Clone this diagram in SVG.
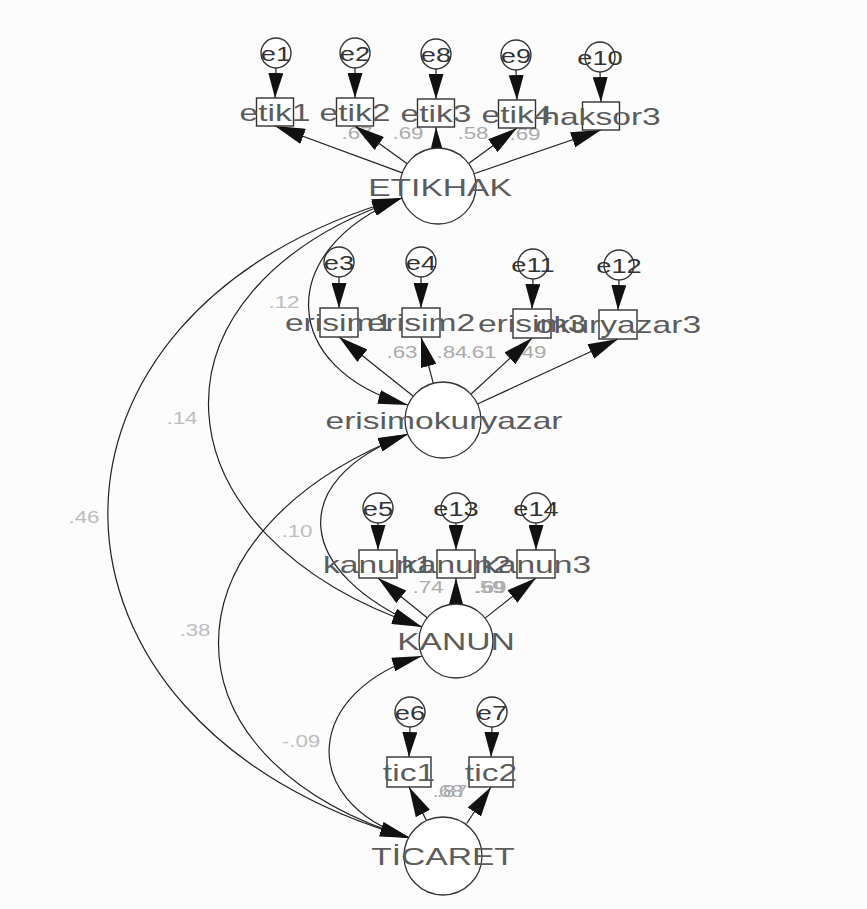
<svg xmlns="http://www.w3.org/2000/svg" width="867" height="909" viewBox="0 0 867 909">
  <defs>
    <!-- filled arrowheads: error paths, factor loadings, covariance ends -->
    <marker id="ahe" viewBox="0 0 25 15" refX="25" refY="7.5" markerWidth="25" markerHeight="15" markerUnits="userSpaceOnUse" orient="auto">
      <path d="M0,0 L25,7.5 L0,15 z" fill="#111"/>
    </marker>
    <marker id="ahl" viewBox="0 0 30 16" refX="30" refY="8" markerWidth="30" markerHeight="16" markerUnits="userSpaceOnUse" orient="auto">
      <path d="M0,0 L30,8 L0,16 z" fill="#111"/>
    </marker>
    <marker id="ahc" viewBox="0 0 30 14" refX="30" refY="7" markerWidth="30" markerHeight="14" markerUnits="userSpaceOnUse" orient="auto-start-reverse">
      <path d="M0,0 L30,7 L0,14 z" fill="#111"/>
    </marker>
  </defs>
  <style>
    .err circle { fill: #fff; stroke: #333; stroke-width: 1.4; }
    .obs rect { fill: #fff; stroke: #333; stroke-width: 1.4; }
    .lat circle { fill: #fff; stroke: #333; stroke-width: 1.3; }
    text { font-family: "Liberation Sans", Arial, sans-serif; text-anchor: middle; }
    .nm { font-size: 24px; fill: #5c5c5c; }
    .en { font-size: 21px; fill: #333; }
    .est { font-size: 16px; fill: #ababab; }
    .cov { font-size: 16px; fill: #bdbdbd; }
    .reg line { stroke: #222; stroke-width: 1.2; }
    .reg .ev { marker-end: url(#ahe); }
    .reg .ld { marker-end: url(#ahl); }
    .arc path { fill: none; stroke: #222; stroke-width: 1.2; marker-start: url(#ahc); marker-end: url(#ahc); }
  </style>

  <rect width="867" height="909" fill="#fcfcfc"/>

  <!-- estimates printed under the paths -->
  <g id="estimates">
    <text class="est" transform="translate(357,139) scale(1.4,1)">.67</text>
    <text class="est" transform="translate(408,139) scale(1.4,1)">.69</text>
    <text class="est" transform="translate(473,139) scale(1.4,1)">.58</text>
    <text class="est" transform="translate(525,140) scale(1.4,1)">.69</text>
    <text class="est" transform="translate(402,358) scale(1.4,1)">.63</text>
    <text class="est" transform="translate(452,358) scale(1.4,1)">.84</text>
    <text class="est" transform="translate(481,358) scale(1.4,1)">.61</text>
    <text class="est" transform="translate(531,358) scale(1.4,1)">.49</text>
    <text class="est" transform="translate(428,593) scale(1.4,1)">.74</text>
    <text class="est" transform="translate(489,593) scale(1.4,1)">.59</text>
    <text class="est" transform="translate(491,593) scale(1.4,1)">.69</text>
    <text class="est" transform="translate(448,797) scale(1.4,1)">.68</text>
    <text class="est" transform="translate(452,797) scale(1.4,1)">.87</text>
    <text class="cov" transform="translate(284,308) scale(1.4,1)">.12</text>
    <text class="cov" transform="translate(182,424) scale(1.4,1)">.14</text>
    <text class="cov" transform="translate(84,523) scale(1.4,1)">.46</text>
    <text class="cov" transform="translate(297,537) scale(1.4,1)">.10</text>
    <text class="cov" transform="translate(195,636) scale(1.4,1)">.38</text>
    <text class="cov" transform="translate(301,747) scale(1.4,1)">-.09</text>
  </g>

  <g id="connectors">
    <g class="reg">
      <!-- error terms to indicators -->
      <line class="ev" x1="276" y1="68" x2="275" y2="98"/>
      <line class="ev" x1="355" y1="68" x2="355" y2="98"/>
      <line class="ev" x1="436" y1="69" x2="436" y2="99"/>
      <line class="ev" x1="516" y1="70" x2="517" y2="100"/>
      <line class="ev" x1="600" y1="72" x2="601" y2="102"/>
      <line class="ev" x1="339" y1="277" x2="339" y2="308"/>
      <line class="ev" x1="421" y1="277" x2="421" y2="308"/>
      <line class="ev" x1="533" y1="279" x2="532" y2="309"/>
      <line class="ev" x1="619" y1="280" x2="618" y2="310"/>
      <line class="ev" x1="378" y1="523" x2="378" y2="550"/>
      <line class="ev" x1="456" y1="523" x2="456" y2="550"/>
      <line class="ev" x1="536" y1="523" x2="536" y2="550"/>
      <line class="ev" x1="410" y1="727" x2="409" y2="757"/>
      <line class="ev" x1="492" y1="727" x2="491" y2="757"/>
      <!-- latent factors to indicators -->
      <line class="ld" x1="402.3" y1="172.9" x2="275" y2="126"/>
      <line class="ld" x1="407.2" y1="163.7" x2="355" y2="126"/>
      <line class="ld" x1="436.7" y1="152" x2="436" y2="127"/>
      <line class="ld" x1="468.6" y1="163.5" x2="517" y2="128"/>
      <line class="ld" x1="473.9" y1="173.7" x2="601" y2="130"/>
      <line class="ld" x1="413.3" y1="396.3" x2="339" y2="337"/>
      <line class="ld" x1="433.3" y1="383.3" x2="421" y2="337"/>
      <line class="ld" x1="470.9" y1="394.2" x2="532" y2="338"/>
      <line class="ld" x1="477.5" y1="404" x2="618" y2="339"/>
      <line class="ld" x1="427.2" y1="617.8" x2="378" y2="578"/>
      <line class="ld" x1="456" y1="607" x2="456" y2="578"/>
      <line class="ld" x1="485.1" y1="618.1" x2="536" y2="578"/>
      <line class="ld" x1="427" y1="821.4" x2="409" y2="787"/>
      <line class="ld" x1="466.6" y1="823.5" x2="491" y2="787"/>
    </g>
    <g class="arc">
      <!-- factor covariances -->
      <path d="M402,198 C273,250 280,370 408,405"/>
      <path d="M402,198 C132,290 150,535 422,627"/>
      <path d="M402,198 C6,309 11,724 410,838"/>
      <path d="M408,434 C284,481 295,573 422,627"/>
      <path d="M408,434 C156,532 154,759 410,838"/>
      <path d="M422,656 C307,690 294,800 410,838"/>
    </g>
  </g>

  <!-- error terms -->
  <g id="e1" class="err"><circle cx="276" cy="53" r="15"/><text class="en" transform="translate(276,61) scale(1.3,1)">e1</text></g>
  <g id="e2" class="err"><circle cx="355" cy="53" r="15"/><text class="en" transform="translate(355,61) scale(1.3,1)">e2</text></g>
  <g id="e8" class="err"><circle cx="436" cy="54" r="15"/><text class="en" transform="translate(436,62) scale(1.3,1)">e8</text></g>
  <g id="e9" class="err"><circle cx="516" cy="55" r="15"/><text class="en" transform="translate(516,63) scale(1.3,1)">e9</text></g>
  <g id="e10" class="err"><circle cx="600" cy="57" r="15"/><text class="en" transform="translate(600,65) scale(1.3,1)">e10</text></g>
  <g id="e3" class="err"><circle cx="339" cy="262" r="15"/><text class="en" transform="translate(339,270) scale(1.3,1)">e3</text></g>
  <g id="e4" class="err"><circle cx="421" cy="262" r="15"/><text class="en" transform="translate(421,270) scale(1.3,1)">e4</text></g>
  <g id="e11" class="err"><circle cx="533" cy="264" r="15"/><text class="en" transform="translate(533,272) scale(1.3,1)">e11</text></g>
  <g id="e12" class="err"><circle cx="619" cy="265" r="15"/><text class="en" transform="translate(619,273) scale(1.3,1)">e12</text></g>
  <g id="e5" class="err"><circle cx="378" cy="508" r="15"/><text class="en" transform="translate(378,516) scale(1.3,1)">e5</text></g>
  <g id="e13" class="err"><circle cx="456" cy="508" r="15"/><text class="en" transform="translate(456,516) scale(1.3,1)">e13</text></g>
  <g id="e14" class="err"><circle cx="536" cy="508" r="15"/><text class="en" transform="translate(536,516) scale(1.3,1)">e14</text></g>
  <g id="e6" class="err"><circle cx="410" cy="712" r="15"/><text class="en" transform="translate(410,720) scale(1.3,1)">e6</text></g>
  <g id="e7" class="err"><circle cx="492" cy="712" r="15"/><text class="en" transform="translate(492,720) scale(1.3,1)">e7</text></g>

  <!-- observed indicators -->
  <g id="etik1" class="obs"><rect x="256.5" y="98" width="37" height="28"/><text class="nm" transform="translate(275,121) scale(1.4,1)">etik1</text></g>
  <g id="etik2" class="obs"><rect x="336.5" y="98" width="37" height="28"/><text class="nm" transform="translate(355,121) scale(1.4,1)">etik2</text></g>
  <g id="etik3" class="obs"><rect x="417.5" y="99" width="37" height="28"/><text class="nm" transform="translate(436,122) scale(1.4,1)">etik3</text></g>
  <g id="etik4" class="obs"><rect x="498.5" y="100" width="37" height="28"/><text class="nm" transform="translate(517,123) scale(1.4,1)">etik4</text></g>
  <g id="haksor3" class="obs"><rect x="582.5" y="102" width="37" height="28"/><text class="nm" transform="translate(601,125) scale(1.4,1)">haksor3</text></g>
  <g id="erisim1" class="obs"><rect x="320" y="308" width="38" height="29"/><text class="nm" transform="translate(339,331) scale(1.4,1)">erisim1</text></g>
  <g id="erisim2" class="obs"><rect x="402" y="308" width="38" height="29"/><text class="nm" transform="translate(421,331) scale(1.4,1)">erisim2</text></g>
  <g id="erisim3" class="obs"><rect x="513" y="309" width="38" height="29"/><text class="nm" transform="translate(532,332) scale(1.4,1)">erisim3</text></g>
  <g id="okuryazar3" class="obs"><rect x="599" y="310" width="38" height="29"/><text class="nm" transform="translate(618,333) scale(1.4,1)">okuryazar3</text></g>
  <g id="kanun1" class="obs"><rect x="359" y="550" width="38" height="28"/><text class="nm" transform="translate(378,573) scale(1.4,1)">kanun1</text></g>
  <g id="kanun2" class="obs"><rect x="437" y="550" width="38" height="28"/><text class="nm" transform="translate(456,573) scale(1.4,1)">kanun2</text></g>
  <g id="kanun3" class="obs"><rect x="517" y="550" width="38" height="28"/><text class="nm" transform="translate(536,573) scale(1.4,1)">kanun3</text></g>
  <g id="tic1" class="obs"><rect x="387" y="757" width="44" height="30"/><text class="nm" transform="translate(409,781) scale(1.4,1)">tic1</text></g>
  <g id="tic2" class="obs"><rect x="469" y="757" width="44" height="30"/><text class="nm" transform="translate(491,781) scale(1.4,1)">tic2</text></g>

  <!-- latent factors -->
  <g id="ETIKHAK" class="lat"><circle cx="438" cy="186" r="38"/><text class="nm" transform="translate(440,196) scale(1.4,1)">ETIKHAK</text></g>
  <g id="erisimokuryazar" class="lat"><circle cx="443" cy="420" r="38"/><text class="nm" transform="translate(444,429) scale(1.4,1)">erisimokuryazar</text></g>
  <g id="KANUN" class="lat"><circle cx="456" cy="641" r="37"/><text class="nm" transform="translate(456,650) scale(1.4,1)">KANUN</text></g>
  <g id="TICARET" class="lat"><circle cx="443" cy="856" r="39"/><text class="nm" transform="translate(443,865) scale(1.4,1)">TİCARET</text></g>
</svg>
